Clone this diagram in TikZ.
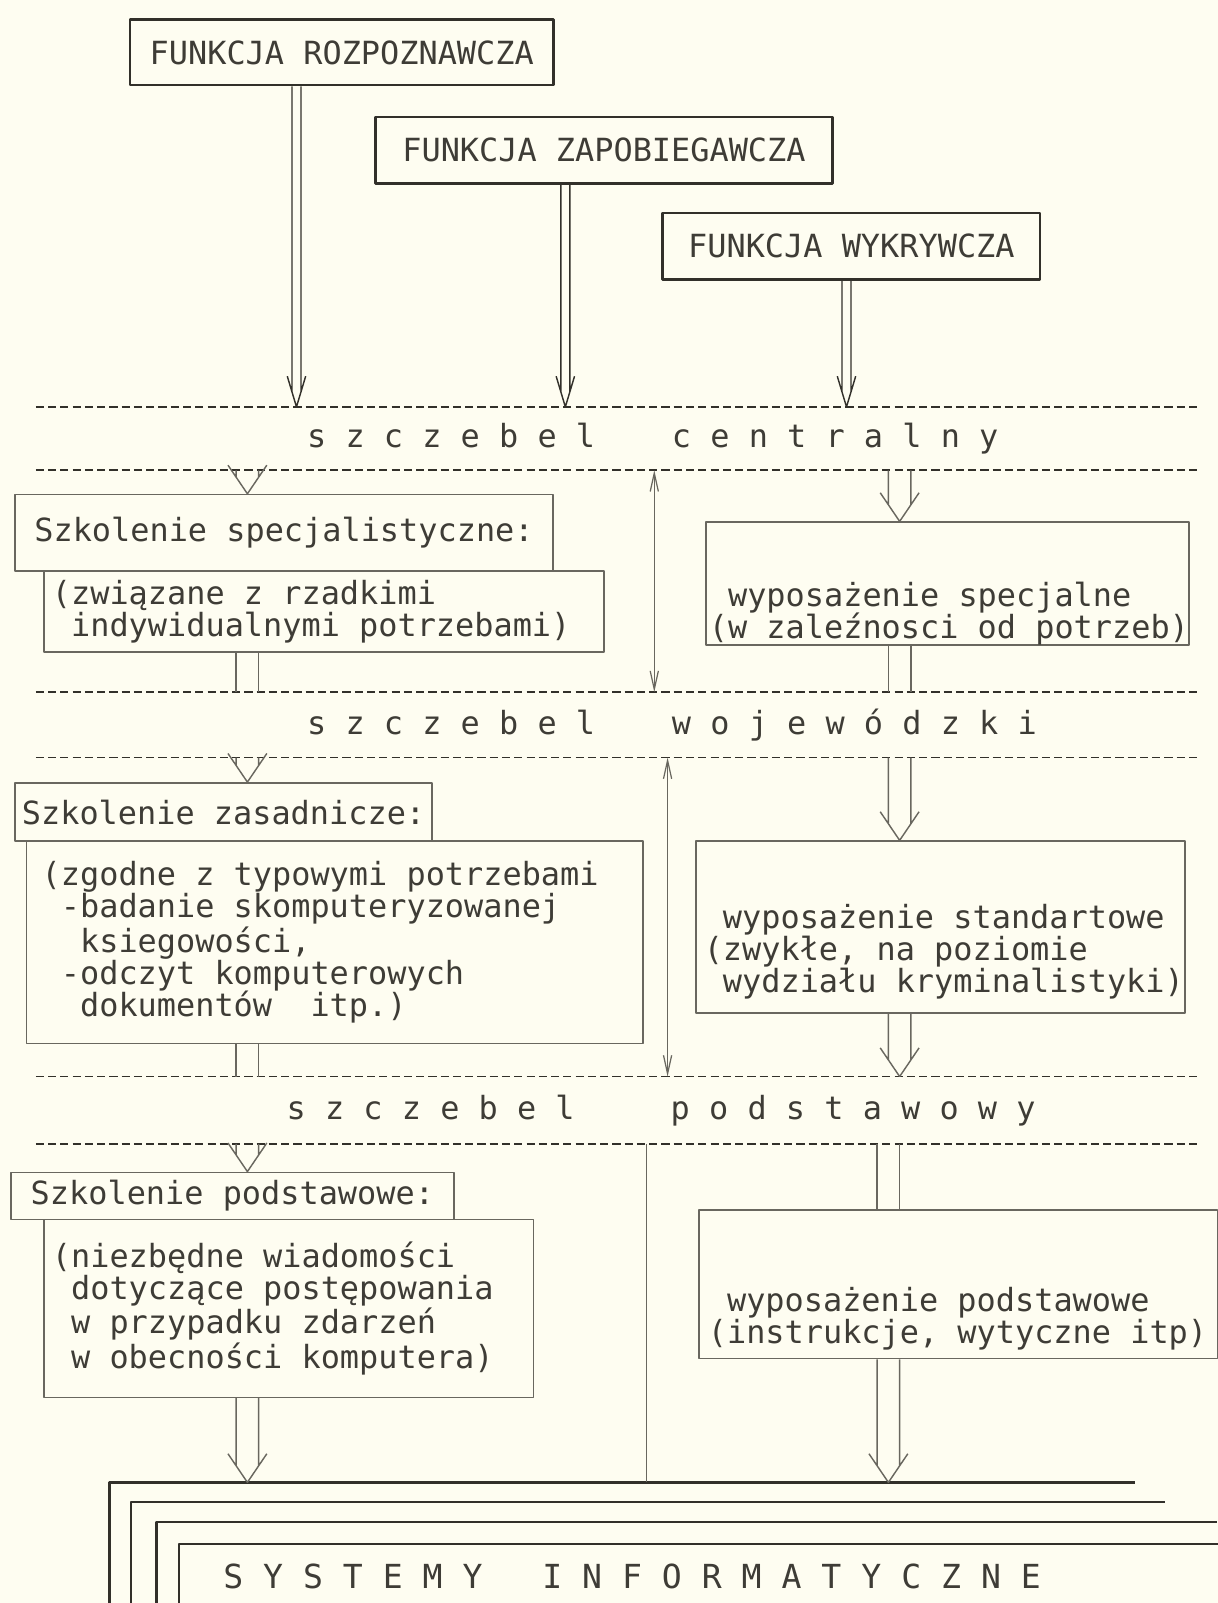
\documentclass[tikz,border=0pt]{standalone}
\usepackage{fontspec}
\newfontfamily\printfont{DejaVu Sans Mono}
\usetikzlibrary{calc,positioning,arrows.meta}
\definecolor{paper}{RGB}{254,253,241}
\definecolor{ink}{RGB}{50,48,42}
\definecolor{typed}{RGB}{62,60,54}
\definecolor{pale}{RGB}{105,103,95}
\newcommand{\pad}{\phantom{x}}
\lineskiplimit=-20pt

\tikzset{
  printed/.style={font=\printfont\fontsize{15.6bp}{15.75bp}\selectfont, text=typed,
      execute at begin node={\spaceskip=0pt\xspaceskip=0pt\relax}},
  funbox/.style={printed, draw=ink, line width=1.3bp, anchor=north west, inner sep=0pt},
  frame/.style={printed, draw=pale, line width=0.8bp, anchor=north west, inner ysep=0pt, align=left},
  note/.style={printed, anchor=north west, inner sep=0pt, align=left},
  tier/.style={printed, anchor=base west, inner sep=0pt},
  level/.style={draw=ink, line width=0.9bp, dash pattern=on 4bp off 2bp},
  hollow/.style n args={4}{line width=0.7bp, to path={
      ($(\tikztostart)+(-#1,0bp)$) -- ($(\tikztotarget)+(-#1,#2)$)
      ($(\tikztostart)+(#1,0bp)$) -- ($(\tikztotarget)+(#1,#2)$)
      ($(\tikztotarget)+(-#3,#4)$) -- (\tikztotarget) -- ($(\tikztotarget)+(#3,#4)$)}},
  toparrow/.style={draw=ink, hollow={2.2bp}{7.3bp}{4.5bp}{15bp}},
  downarrow/.style={draw=pale, hollow={5.5bp}{8.1bp}{9.5bp}{14bp}},
  rail/.style={draw=pale, line width=0.7bp, to path={
      ($(\tikztostart)+(-5.5bp,0bp)$) -- ($(\tikztotarget)+(-5.5bp,0bp)$)
      ($(\tikztostart)+(5.5bp,0bp)$) -- ($(\tikztotarget)+(5.5bp,0bp)$)}},
  span/.style={draw=pale, line width=0.6bp,
      {Straight Barb[length=9bp,width=4bp]}-{Straight Barb[length=9bp,width=4bp]}},
  stack/.style={draw=ink, line width=1.1bp},
}

\begin{document}
\begin{tikzpicture}[x=0.5bp,y=-0.5bp,>=latex,line join=bevel]
\useasboundingbox[fill=paper] (0,0) rectangle (1191,1568);
%%
  % Columns of the connectors
  \coordinate (xa) at (290,0);
  \coordinate (xb) at (553,0);
  \coordinate (xc) at (828,0);
  \coordinate (xl) at (242,0);
  \coordinate (xr) at (880,0);
  \coordinate (xs) at (869,0);
  \coordinate (xm1) at (640,0);
  \coordinate (xm2) at (653,0);
  \coordinate (xm3) at (632,0);
  % Levels: dashed lines
  \draw[level] (35,398) coordinate (d1w) -- (1175,398);
  \draw[level] (35,460) coordinate (d2w) -- (1175,460);
  \draw[level] (35,677) coordinate (d3w) -- (1175,677);
  \draw[level] (35,741) coordinate (d4w) -- (1175,741);
  \draw[level] (35,1053) coordinate (d5w) -- (1175,1053);
  \draw[level] (35,1119) coordinate (d6w) -- (1175,1119);
  % Node: szczebel centralny
  \node[tier] (tc) at (300,438) {s z c z e b e l\pad\pad\pad{} c e n t r a l n y};
  % Node: szczebel wojewodzki
  \node[tier] (tw) at (300,718) {s z c z e b e l\pad\pad\pad{} w o j e w ó d z k i};
  % Node: szczebel podstawowy
  \node[tier] (tp) at (280,1095) {s z c z e b e l\pad\pad\pad\pad{} p o d s t a w o w y};
  % Node: FUNKCJA ROZPOZNAWCZA
  \node[funbox, minimum width=207bp, minimum height=32bp] (roz) at (126,18) {FUNKCJA ROZPOZNAWCZA};
  % Node: FUNKCJA ZAPOBIEGAWCZA
  \node[funbox, minimum width=223.5bp, minimum height=32.5bp] (zap) at (366,113) {FUNKCJA ZAPOBIEGAWCZA};
  % Node: FUNKCJA WYKRYWCZA
  \node[funbox, minimum width=184.5bp, minimum height=32.5bp] (wyk) at (647,207) {FUNKCJA WYKRYWCZA};
  % Node: Szkolenie specjalistyczne
  \node[frame, minimum width=263bp, minimum height=37.5bp] (spec) at (14,483) {Szkolenie specjalistyczne:};
  \node[frame, inner xsep=4bp, text width=266bp, minimum height=39.5bp] (zwi) at (42,558)
    {(związane z rzadkimi\\\pad indywidualnymi potrzebami)};
  % Node: Szkolenie zasadnicze
  \node[frame, minimum width=202bp, minimum height=28.5bp] (zas) at (14,765) {Szkolenie zasadnicze:};
  \node[frame, inner xsep=7.5bp, text width=286.5bp, minimum height=99bp] (zgo) at (25,822)
    {(zgodne z typowymi potrzebami\\\pad-badanie skomputeryzowanej\\\pad\pad ksiegowości,\\\pad-odczyt komputerowych\\\pad\pad dokumentów\pad{} itp.)};
  % Node: Szkolenie podstawowe
  \node[frame, minimum width=216.5bp, minimum height=23bp] (pod) at (10,1146) {Szkolenie podstawowe:};
  \node[frame, inner xsep=4bp, text width=231.5bp, minimum height=87bp] (nie) at (42,1192)
    {(niezbędne wiadomości\\\pad dotyczące postępowania\\\pad w przypadku zdarzeń\\\pad w obecności komputera)};
  % Node: wyposazenie specjalne
  \node[frame, inner sep=0pt, minimum width=236bp, minimum height=60bp] (wsp) at (690,510) {};
  \node[note] (wsptxt) at (693,569) {\pad wyposażenie specjalne\\(w zaleźnosci od potrzeb)};
  % Node: wyposazenie standartowe
  \node[frame, inner sep=0pt, minimum width=239bp, minimum height=84bp] (wst) at (680,822) {};
  \node[note] (wsttxt) at (688,884) {\pad wyposażenie standartowe\\(zwykłe, na poziomie\\\pad wydziału kryminalistyki)};
  % Node: wyposazenie podstawowe
  \node[frame, inner sep=0pt, minimum width=253.5bp, minimum height=72.5bp] (wpo) at (683,1183) {};
  \node[note] (wpotxt) at (692,1259) {\pad wyposażenie podstawowe\\(instrukcje, wytyczne itp)};
  % Node: SYSTEMY INFORMATYCZNE
  \draw[stack] (107,1568) -- (107,1450) coordinate (f1) -- (1110,1450);
  \draw[stack] (128,1568) -- (128,1469) -- (1140,1469);
  \draw[stack] (153,1568) -- (153,1489) -- (1190,1489);
  \draw[stack] (175,1568) -- (175,1510) -- (1191,1510);
  \node[tier, font=\printfont\fontsize{16.2bp}{18bp}\selectfont] (sys) at (218,1554)
    {S Y S T E M Y\pad\pad{} I N F O R M A T Y C Z N E};
  % Edge: FUNKCJA ROZPOZNAWCZA -> szczebel centralny
  \draw[toparrow] (roz.south -| xa) to (d1w -| xa);
  % Edge: FUNKCJA ZAPOBIEGAWCZA -> szczebel centralny
  \draw[toparrow] (zap.south -| xb) to (d1w -| xb);
  % Edge: FUNKCJA WYKRYWCZA -> szczebel centralny
  \draw[toparrow] (wyk.south -| xc) to (d1w -| xc);
  % Edge: szczebel centralny -> Szkolenie specjalistyczne
  \draw[downarrow] (d2w -| xl) to (spec.north -| xl);
  \draw[rail] (zwi.south -| xl) to (d3w -| xl);
  % Edge: szczebel centralny -> wyposazenie specjalne
  \draw[downarrow] (d2w -| xr) to (wsp.north -| xr);
  \draw[rail] (wsp.south -| xr) to (d3w -| xr);
  \draw[span] (d2w -| xm1) -- (d3w -| xm1);
  % Edge: szczebel wojewodzki -> Szkolenie zasadnicze
  \draw[downarrow] (d4w -| xl) to (zas.north -| xl);
  \draw[rail] (zgo.south -| xl) to (d5w -| xl);
  % Edge: szczebel wojewodzki -> wyposazenie standartowe
  \draw[downarrow] (d4w -| xr) to (wst.north -| xr);
  \draw[downarrow] (wst.south -| xr) to (d5w -| xr);
  \draw[span] (d4w -| xm2) -- (d5w -| xm2);
  % Edge: szczebel podstawowy -> Szkolenie podstawowe
  \draw[downarrow] (d6w -| xl) to (pod.north -| xl);
  \draw[downarrow] (nie.south -| xl) to (f1 -| xl);
  % Edge: szczebel podstawowy -> wyposazenie podstawowe
  \draw[rail] (d6w -| xs) to (wpo.north -| xs);
  \draw[downarrow] (wpo.south -| xs) to (f1 -| xs);
  \draw[draw=pale, line width=0.6bp] (d6w -| xm3) -- (f1 -| xm3);
%
\end{tikzpicture}
\end{document}
